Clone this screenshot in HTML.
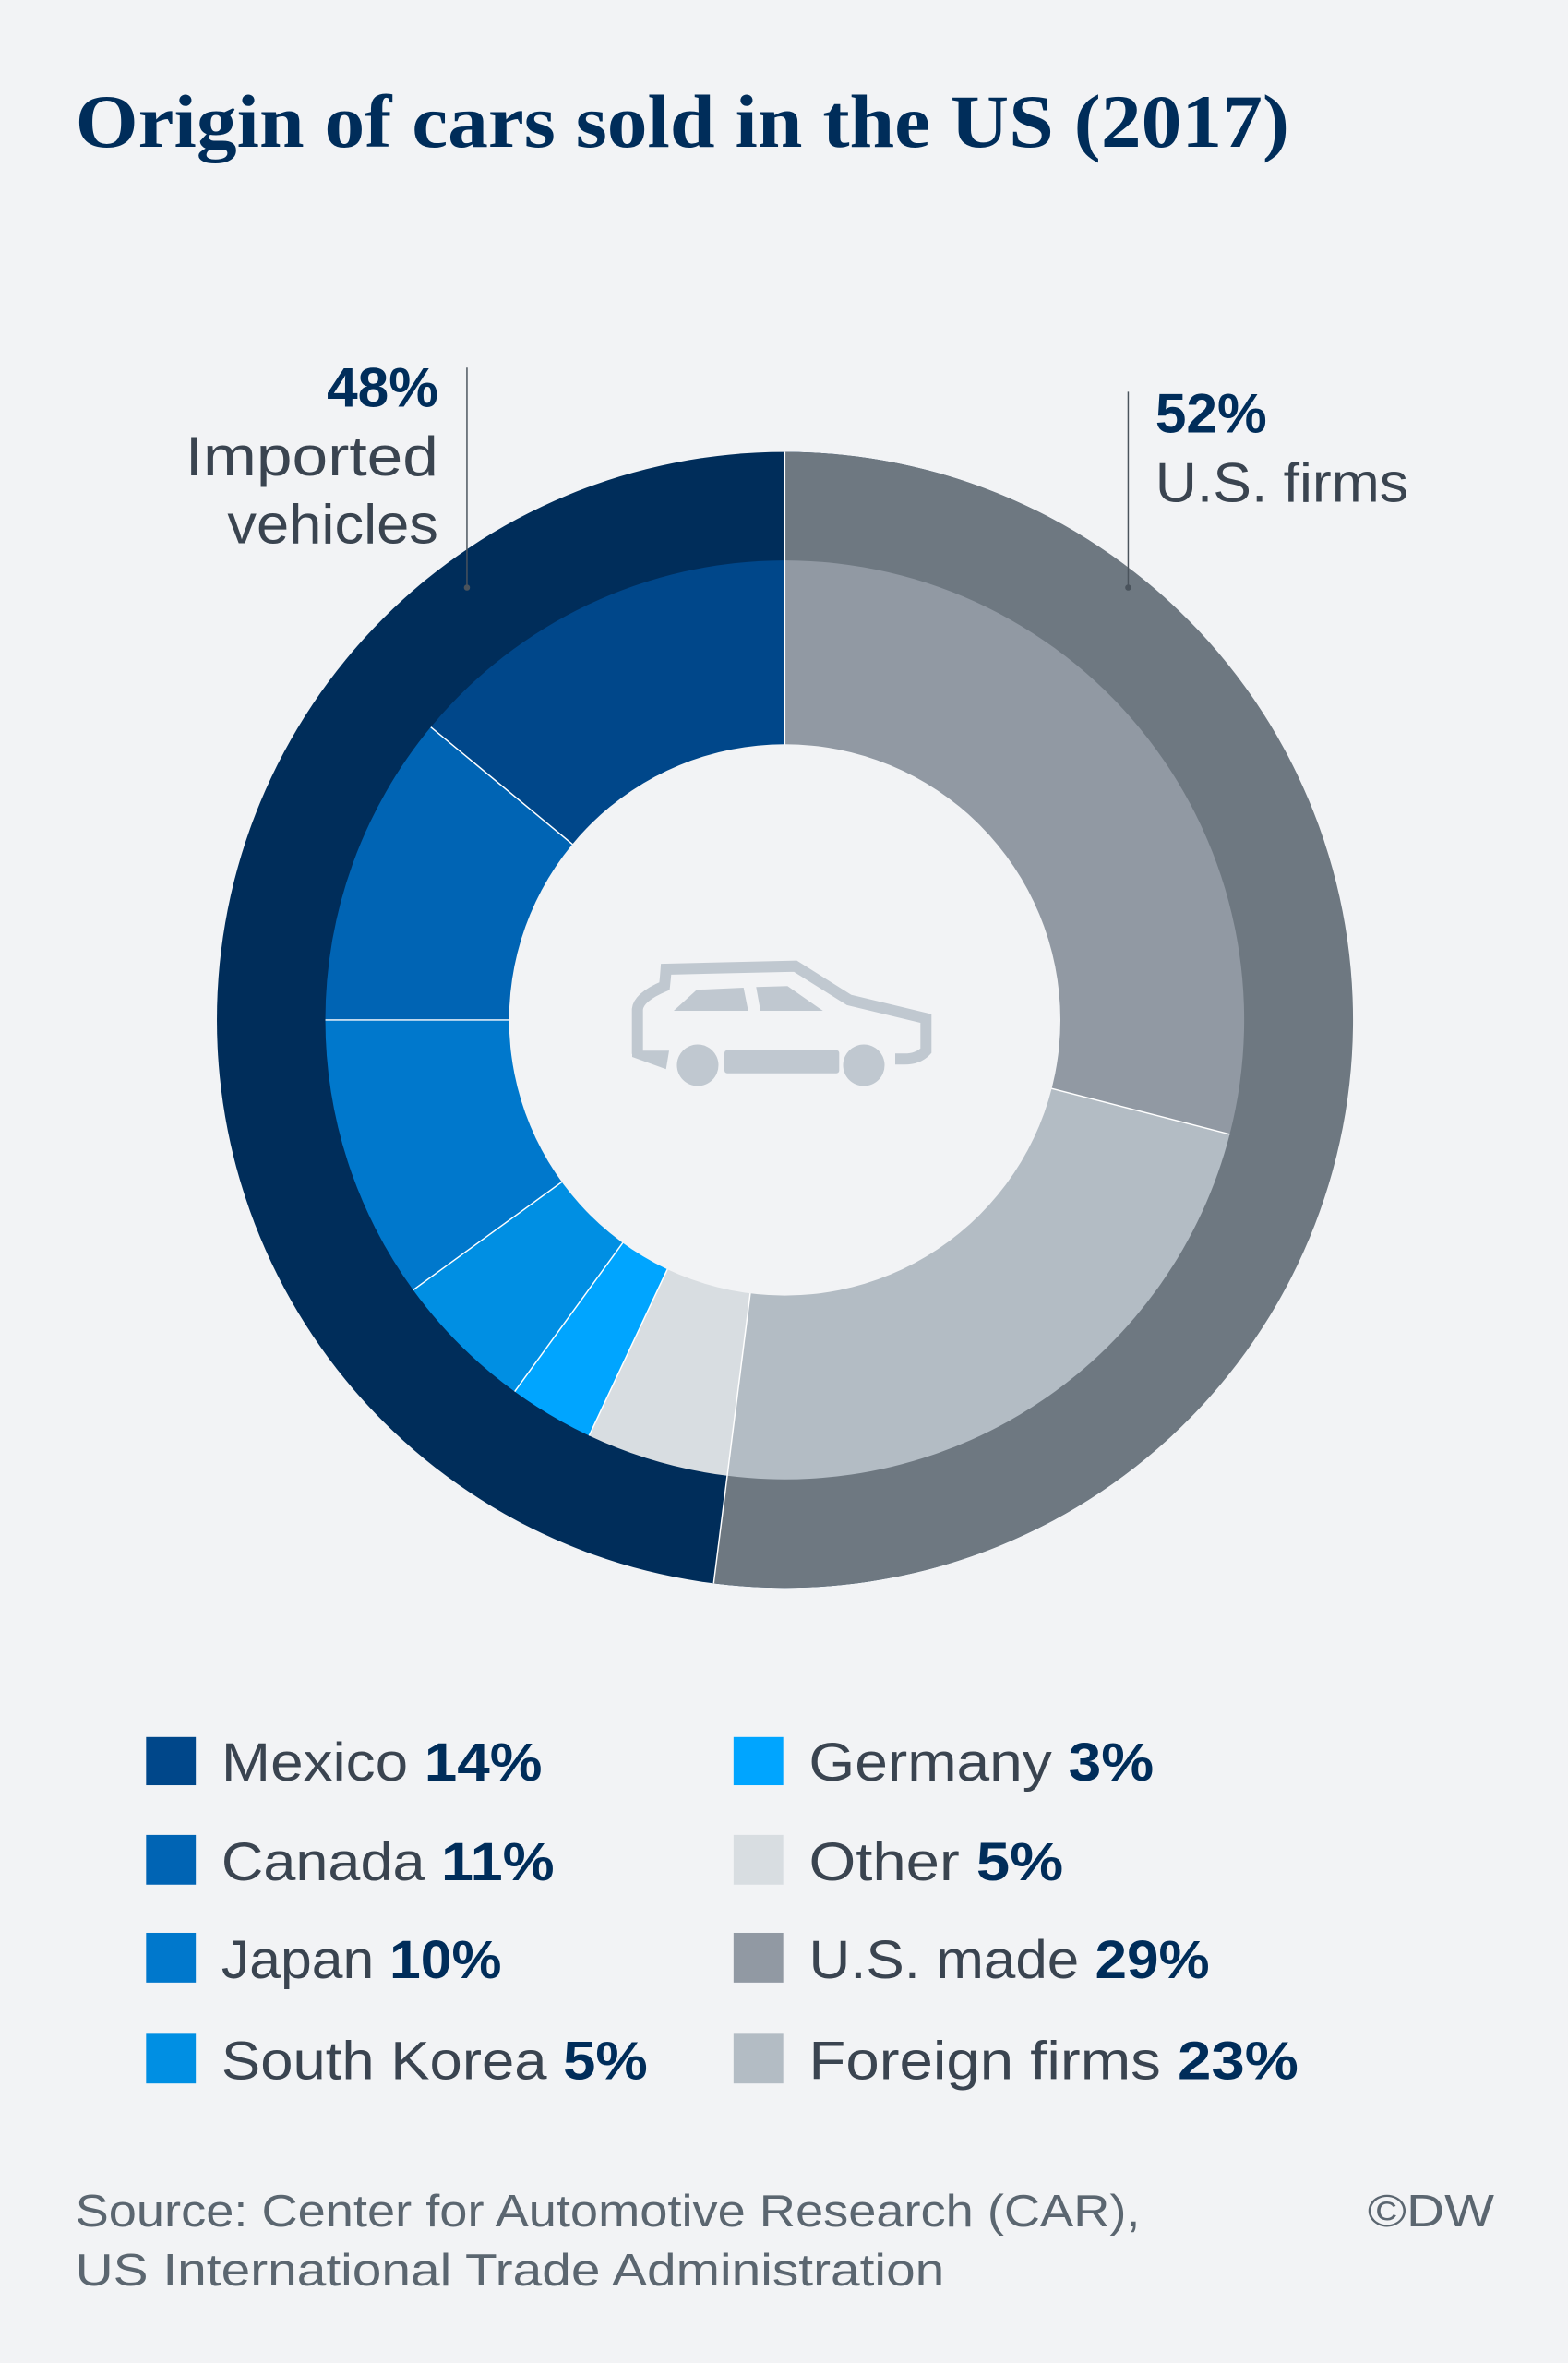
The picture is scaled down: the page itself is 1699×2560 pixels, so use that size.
<!DOCTYPE html>
<html><head><meta charset="utf-8"><style>
html,body{margin:0;padding:0;background:#f2f3f5;}
svg{display:block}
</style></head><body>
<svg width="1699" height="2560" viewBox="0 0 1699 2560" xmlns="http://www.w3.org/2000/svg">
<rect width="1699" height="2560" fill="#f2f3f5"/>
<g transform="scale(1.6321)">
  <text x="50" y="97.5" font-family="Liberation Serif, serif" font-weight="bold" font-size="50" fill="#002d5a" textLength="806" lengthAdjust="spacingAndGlyphs">Origin of cars sold in the US (2017)</text>

  <!-- outer ring -->
  <circle cx="521" cy="677" r="377" fill="#002d5a"/>
  <path d="M521,677 L521,300 A377,377 0 1 1 473.8,1051.0 Z" fill="#6e7881"/>
  <!-- inner ring -->
  <path d="M521,677 L521,372 A305,305 0 0 1 816.4,752.9 Z" fill="#9199a3"/>
  <path d="M521,677 L816.4,752.9 A305,305 0 0 1 482.8,979.6 Z" fill="#b3bcc4"/>
  <path d="M521,677 L482.8,979.6 A305,305 0 0 1 391.1,953.0 Z" fill="#d8dde1"/>
  <path d="M521,677 L391.1,953.0 A305,305 0 0 1 341.7,923.7 Z" fill="#00a5ff"/>
  <path d="M521,677 L341.7,923.7 A305,305 0 0 1 274.3,856.3 Z" fill="#008fe3"/>
  <path d="M521,677 L274.3,856.3 A305,305 0 0 1 216,677 Z" fill="#0078cc"/>
  <path d="M521,677 L216,677 A305,305 0 0 1 286.0,482.6 Z" fill="#0064b4"/>
  <path d="M521,677 L286.0,482.6 A305,305 0 0 1 521,372 Z" fill="#00478a"/>
  <g stroke="#ffffff" stroke-width="0.9">
    <line x1="521" y1="677" x2="521" y2="300"/>
    <line x1="521" y1="677" x2="473.8" y2="1051.0"/>
    <line x1="521" y1="677" x2="816.4" y2="752.9"/>
    <line x1="521" y1="677" x2="391.1" y2="953.0"/>
    <line x1="521" y1="677" x2="341.7" y2="923.7"/>
    <line x1="521" y1="677" x2="274.3" y2="856.3"/>
    <line x1="521" y1="677" x2="216" y2="677"/>
    <line x1="521" y1="677" x2="286.0" y2="482.6"/>
  </g>
  <circle cx="521" cy="677" r="183" fill="#f2f3f5"/>

  <!-- leader lines -->
  <line x1="310" y1="244" x2="310" y2="390" stroke="#4a535c" stroke-width="0.9"/>
  <circle cx="310" cy="390" r="2" fill="#4a535c"/>
  <line x1="749" y1="260" x2="749" y2="390" stroke="#4a535c" stroke-width="0.9"/>
  <circle cx="749" cy="390" r="2" fill="#4a535c"/>

  <g font-family="Liberation Sans, sans-serif" font-size="37">
    <text x="291" y="270" text-anchor="end" font-weight="bold" fill="#002d5a">48%</text>
    <text x="291" y="315.5" text-anchor="end" fill="#3a4450" textLength="168" lengthAdjust="spacingAndGlyphs">Imported</text>
    <text x="291" y="360.5" text-anchor="end" fill="#3a4450" textLength="140" lengthAdjust="spacingAndGlyphs">vehicles</text>
    <text x="767" y="287" font-weight="bold" fill="#002d5a">52%</text>
    <text x="767" y="333" fill="#3a4450" textLength="168" lengthAdjust="spacingAndGlyphs">U.S. firms</text>
  </g>

  <!-- legend -->
  <rect x="97" y="1153" width="33" height="32" fill="#00478a"/>
  <rect x="97" y="1218" width="33" height="33" fill="#0064b4"/>
  <rect x="97" y="1283" width="33" height="33" fill="#0078cc"/>
  <rect x="97" y="1350" width="33" height="33" fill="#008fe3"/>
  <rect x="487" y="1153" width="33" height="32" fill="#00a5ff"/>
  <rect x="487" y="1218" width="33" height="33" fill="#d8dde1"/>
  <rect x="487" y="1283" width="33" height="33" fill="#9199a3"/>
  <rect x="487" y="1350" width="33" height="33" fill="#b3bcc4"/>
  <g font-family="Liberation Sans, sans-serif" font-size="36" fill="#3a4450">
    <text x="147" y="1182" textLength="213" lengthAdjust="spacingAndGlyphs">Mexico <tspan font-weight="bold" fill="#002d5a">14%</tspan></text>
    <text x="147" y="1248" textLength="221" lengthAdjust="spacingAndGlyphs">Canada <tspan font-weight="bold" fill="#002d5a">11%</tspan></text>
    <text x="147" y="1313" textLength="186" lengthAdjust="spacingAndGlyphs">Japan <tspan font-weight="bold" fill="#002d5a">10%</tspan></text>
    <text x="147" y="1380" textLength="283" lengthAdjust="spacingAndGlyphs">South Korea <tspan font-weight="bold" fill="#002d5a">5%</tspan></text>
    <text x="537" y="1182" textLength="229" lengthAdjust="spacingAndGlyphs">Germany <tspan font-weight="bold" fill="#002d5a">3%</tspan></text>
    <text x="537" y="1248" textLength="169" lengthAdjust="spacingAndGlyphs">Other <tspan font-weight="bold" fill="#002d5a">5%</tspan></text>
    <text x="537" y="1313" textLength="266" lengthAdjust="spacingAndGlyphs">U.S. made <tspan font-weight="bold" fill="#002d5a">29%</tspan></text>
    <text x="537" y="1380" textLength="325" lengthAdjust="spacingAndGlyphs">Foreign firms <tspan font-weight="bold" fill="#002d5a">23%</tspan></text>
  </g>

  <g font-family="Liberation Sans, sans-serif" font-size="30" fill="#5b6670">
    <text x="50" y="1478" textLength="707" lengthAdjust="spacingAndGlyphs">Source: Center for Automotive Research (CAR),</text>
    <text x="50" y="1517" textLength="577" lengthAdjust="spacingAndGlyphs">US International Trade Administration</text>
    <text x="908" y="1478" textLength="84" lengthAdjust="spacingAndGlyphs">©DW</text>
  </g>
</g>

<!-- car icon (real coords) -->
<g fill="#c0c8d0">
  <path d="M690.7,1141.7 L690.7,1093.3 Q692,1080 720,1068.3 Q721,1060 721.7,1050 L861.7,1046.7 L920,1083.3 L1003.3,1103.3 L1003.3,1138.3 Q995,1147.3 980,1147.3 L970,1147.3" fill="none" stroke="#c0c8d0" stroke-width="12" stroke-linejoin="miter"/>
  <polygon points="685,1138.3 725,1138.3 721.7,1158.3 685,1145"/>
  <rect x="785" y="1137.7" width="124.3" height="25" rx="3"/>
  <circle cx="756" cy="1154" r="22.5"/>
  <circle cx="936" cy="1154" r="22.5"/>
  <polygon points="730,1095 755,1072.3 805.7,1070 810.7,1095"/>
  <polygon points="824,1095 819.3,1069.3 853.3,1068.3 891.7,1095"/>
</g>
</svg>
</body></html>
